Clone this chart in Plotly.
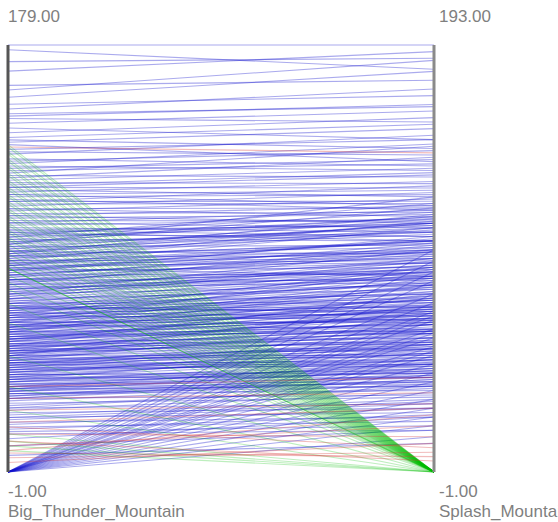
import plotly.graph_objects as go

# Two parallel axes and their value ranges
axis_names = ["Big_Thunder_Mountain", "Splash_Mountain"]
axis_min = [-1, -1]
axis_max = [179, 193]

# (Big_Thunder_Mountain, Splash_Mountain) value pairs per record, grouped by class
blue_pairs = [
    (179, 193), (177, 182), (172, 187), (168, 190), (162, 177), (160, 186), (157, 181),
    (154, 170), (152, 173), (150, 165), (149, 166), (148, 158), (146, 163), (144, 150),
    (142, 160), (140, 157),
    (139, 146), (138, 155), (137, 140), (135, 150), (134, 143), (133, 152), (131, 138),
    (130, 145), (129, 148), (128, 136), (127, 141), (126, 139), (125, 147), (124, 133),
    (123, 142), (122, 137), (121, 130), (120, 135),
    (119, 128), (119, 134), (118, 124), (117, 131), (116, 120), (116, 127), (115, 125),
    (114, 118), (113, 129), (113, 122), (112, 121), (111, 126), (110, 115), (110, 119),
    (109, 123), (108, 117), (107, 112), (107, 120), (106, 116), (105, 113), (104, 110),
    (104, 118), (103, 114), (102, 108), (101, 111), (101, 106), (100, 112), (100, 104),
    (99, 117), (98, 112), (98, 121), (97, 104), (96, 115), (96, 108), (95, 119), (94, 102),
    (94, 111), (93, 114), (92, 98), (92, 107), (91, 116), (90, 103), (90, 97), (89, 109),
    (88, 100), (88, 113), (87, 95), (86, 104), (86, 110), (85, 96), (84, 101), (84, 92),
    (83, 106), (82, 99), (82, 89), (81, 103), (80, 94), (80, 86), (79, 98), (78, 91),
    (78, 102), (77, 85), (76, 96), (76, 88), (75, 93), (74, 84), (74, 100), (73, 90),
    (72, 82), (72, 95), (71, 87), (70, 80), (70, 92), (99, 106), (95, 124), (90, 110),
    (85, 88), (80, 99),
    (69, 85), (68, 78), (68, 90), (67, 82), (66, 74), (66, 86), (65, 80), (64, 71),
    (64, 88), (63, 77), (62, 83), (62, 70), (61, 75), (60, 81), (60, 68), (59, 73),
    (58, 79), (58, 66), (57, 76), (56, 70), (56, 63), (55, 74), (54, 67), (54, 78),
    (53, 62), (52, 71), (52, 60), (51, 65), (50, 72), (50, 58), (49, 63), (48, 69),
    (48, 55), (47, 60), (46, 66), (46, 53), (45, 58), (44, 62), (44, 50), (43, 56),
    (42, 59), (42, 48), (41, 53), (40, 57), (40, 45), (65, 92), (60, 87), (55, 64),
    (50, 54), (45, 49), (68, 72), (58, 84), (48, 75), (62, 91), (52, 80),
    (93, 108), (91, 101), (89, 104), (87, 99), (85, 100), (83, 94), (81, 97), (79, 90),
    (77, 93), (75, 87), (73, 96), (71, 84), (69, 80), (67, 89), (65, 77), (63, 84),
    (61, 72), (59, 78), (57, 69), (55, 71), (53, 66), (51, 68), (49, 59), (47, 64),
    (45, 55), (43, 60), (41, 50), (39, 53), (37, 44), (35, 48), (33, 40), (31, 44),
    (92, 112), (88, 96), (84, 105), (80, 91), (76, 90), (72, 88), (68, 83), (64, 79),
    (60, 74), (56, 73), (52, 64), (48, 62), (44, 57), (40, 51), (36, 46), (32, 40),
    (86, 94), (82, 100), (78, 87), (74, 92), (70, 85), (66, 81), (62, 76), (58, 70),
    (54, 69), (50, 63), (46, 57), (42, 54), (38, 48), (34, 43), (97, 115), (95, 110),
    (91, 112), (87, 104),
    (70, 76), (68, 74), (66, 70), (64, 75), (62, 67), (60, 72), (58, 63), (56, 66),
    (54, 60), (52, 57), (50, 61), (48, 52), (46, 56), (44, 48), (42, 51), (40, 44),
    (38, 46), (36, 42), (34, 45), (32, 38), (30, 41), (69, 71), (67, 77), (65, 68),
    (63, 73), (61, 64), (59, 69), (57, 62), (55, 67), (53, 58), (51, 55), (49, 66),
    (47, 51), (45, 52), (43, 47), (41, 55), (39, 42), (37, 50), (35, 39), (33, 46),
    (39, 50), (38, 44), (37, 47), (36, 40), (35, 45), (34, 38), (33, 42), (32, 36),
    (31, 41), (30, 34), (29, 39), (28, 33), (27, 37), (26, 30), (25, 35), (24, 28),
    (23, 32), (22, 26), (21, 30), (20, 24), (19, 28), (18, 22), (17, 25), (16, 20),
    (15, 18), (38, 55), (34, 49), (30, 43), (26, 38), (22, 31),
    (13, 24), (10, 18), (6, 12),
    (-1, 100), (-1, 95), (-1, 90), (-1, 86), (-1, 80), (-1, 76), (-1, 72), (-1, 68),
    (-1, 64), (-1, 60), (-1, 56), (-1, 52), (-1, 48), (-1, 44), (-1, 40), (-1, 36),
    (-1, 32), (-1, 28), (-1, 24), (-1, 20), (-1, 15), (-1, 70), (-1, 62), (-1, 54),
]

green_pairs = [
    (137, -1), (136, -1), (134, -1), (133, -1), (131, -1), (130, -1), (128, -1), (127, -1),
    (125, -1), (124, -1), (122, -1), (121, -1), (119, -1), (118, -1), (116, -1), (115, -1),
    (113, -1), (112, -1), (110, -1), (109, -1), (107, -1), (106, -1), (104, -1), (103, -1),
    (101, -1), (100, -1), (98, -1), (97, -1), (95, -1), (93, -1), (91, -1), (89, -1),
    (87, -1), (85, -1), (85, -1), (85, -1), (82, -1), (79, -1), (76, -1), (70, -1),
    (62, -1), (48, -1), (35, -1), (25, -1), (15, -1), (12, -1), (10, -1), (8, -1),
]

red_pairs = [
    (136, 144), (10, 20), (5, 8), (8, 25), (3, 12), (15, 15), (20, 28), (25, 30),
    (30, 35), (12, 4), (35, 42), (18, 10), (7, 6),
]

series_colors = {
    "blue": "rgba(20,20,205,0.36)",
    "green": "rgba(0,190,0,0.26)",
    "red": "rgba(215,60,60,0.35)",
}


def scaled(value, axis):
    return (value - axis_min[axis]) / (axis_max[axis] - axis_min[axis])


fig = go.Figure()
for name, pairs in (("blue", blue_pairs), ("green", green_pairs), ("red", red_pairs)):
    for left, right in pairs:
        fig.add_trace(go.Scatter(
            x=[0, 1], y=[scaled(left, 0), scaled(right, 1)],
            mode="lines", line=dict(color=series_colors[name], width=1.1),
            hoverinfo="skip", showlegend=False,
        ))

W, H = 558, 522
pad = 5
left_px, right_px, top_px, bottom_px = 8, 434, 45, 472
span_x = right_px - left_px
span_y = bottom_px - top_px

fig.update_layout(
    width=W, height=H,
    margin=dict(l=left_px - pad, r=W - right_px - pad, t=top_px - pad, b=H - bottom_px - pad),
    paper_bgcolor="white", plot_bgcolor="white",
    xaxis=dict(range=[-pad / span_x, 1 + pad / span_x], visible=False, fixedrange=True),
    yaxis=dict(range=[-pad / span_y, 1 + pad / span_y], visible=False, fixedrange=True),
    shapes=[
        dict(type="line", xref="x", yref="y", x0=0, x1=0, y0=0, y1=1,
             line=dict(color="#555555", width=3), layer="above"),
        dict(type="line", xref="x", yref="y", x0=1, x1=1, y0=0, y1=1,
             line=dict(color="#8a8a8a", width=3), layer="above"),
    ],
)

label_font = dict(family="Liberation Sans, Arial, sans-serif", size=17, color="#7f7f7f")
for i, xpos in enumerate([0, 1]):
    xshift = -2 if i == 0 else 3
    fig.add_annotation(x=xpos, y=1, xref="x", yref="y", text=f"{axis_max[i]:.2f}",
                       showarrow=False, xanchor="left", yanchor="middle",
                       xshift=xshift, yshift=29, font=label_font)
    fig.add_annotation(x=xpos, y=0, xref="x", yref="y", text=f"{axis_min[i]:.2f}",
                       showarrow=False, xanchor="left", yanchor="middle",
                       xshift=xshift, yshift=-19, font=label_font)
    fig.add_annotation(x=xpos, y=0, xref="x", yref="y", text=axis_names[i],
                       showarrow=False, xanchor="left", yanchor="middle",
                       xshift=xshift, yshift=-39, font=label_font)

fig.write_html("out.html", config={"displayModeBar": False})
